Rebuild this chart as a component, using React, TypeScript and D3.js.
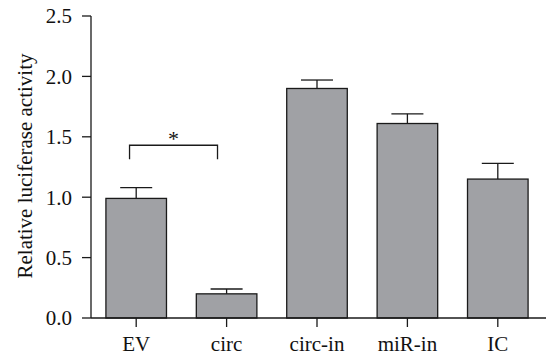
import React from "react";
import * as d3 from "d3";

const categories = ["EV", "circ", "circ-in", "miR-in", "IC"];
const means = [0.99, 0.2, 1.9, 1.61, 1.15];
const errors = [0.09, 0.04, 0.07, 0.08, 0.13];
const yTicks = [0, 0.5, 1.0, 1.5, 2.0, 2.5];
const sigPair = ["EV", "circ"];
const sigLevel = 1.43;
const sigLabel = "*";

const W = 546;
const H = 355;
const left = 91;
const right = 543;
const top = 16;
const bottom = 318;
const font = "Liberation Serif, DejaVu Serif, serif";
const txt: React.CSSProperties = { fontFamily: font, fontSize: "21px" };

export default function App() {
  const x = d3.scaleBand<string>().domain(categories).range([left, right]).paddingInner(0.33).paddingOuter(0.165);
  const y = d3.scaleLinear().domain([0, 2.5]).range([bottom, top]);
  const bw = x.bandwidth();
  const capHalf = 16;
  const stroke = "#1a1a1a";
  const x1 = (x(sigPair[0]) as number) + bw * 0.39;
  const x2 = (x(sigPair[1]) as number) + bw * 0.35;
  const sy = y(sigLevel);

  return (
    <div style={{ position: "absolute", left: 0, top: 0 }}>
      <svg width={W} height={H} style={{ display: "block", background: "#fff" }}>
        {categories.map((c, i) => {
          const cx = (x(c) as number) + bw / 2;
          return (
            <g key={c}>
              <line x1={cx} x2={cx} y1={y(means[i])} y2={y(means[i] + errors[i])} stroke={stroke} strokeWidth={1.3} />
              <line x1={cx - capHalf} x2={cx + capHalf} y1={y(means[i] + errors[i])} y2={y(means[i] + errors[i])} stroke={stroke} strokeWidth={1.3} />
              <rect x={x(c)} y={y(means[i])} width={bw} height={y(0) - y(means[i])} fill="#a0a1a5" stroke={stroke} strokeWidth={1.3} />
              <line x1={cx} x2={cx} y1={bottom} y2={bottom + 9} stroke={stroke} strokeWidth={1.3} />
              <text x={cx} y={351} textAnchor="middle" style={txt} fill="#111">{c}</text>
            </g>
          );
        })}
        <line x1={left} x2={W} y1={bottom} y2={bottom} stroke={stroke} strokeWidth={1.3} />
        <line x1={left} x2={left} y1={top} y2={bottom} stroke={stroke} strokeWidth={1.3} />
        {yTicks.map((t) => (
          <g key={t}>
            <line x1={left - 9} x2={left} y1={y(t)} y2={y(t)} stroke={stroke} strokeWidth={1.3} />
            <text x={72} y={y(t)} dy="0.35em" textAnchor="end" style={txt} fill="#111">{t.toFixed(1)}</text>
          </g>
        ))}
        <text transform={`translate(32, 166) rotate(-90)`} textAnchor="middle" style={txt} fill="#111">Relative luciferase activity</text>
        <path d={`M${x1},${sy + 14}V${sy}H${x2}V${sy + 14}`} fill="none" stroke={stroke} strokeWidth={1.3} />
        <text x={(x1 + x2) / 2} y={sy + 1} textAnchor="middle" style={{ ...txt, fontSize: "22px" }} fill="#111">{sigLabel}</text>
      </svg>
    </div>
  );
}
